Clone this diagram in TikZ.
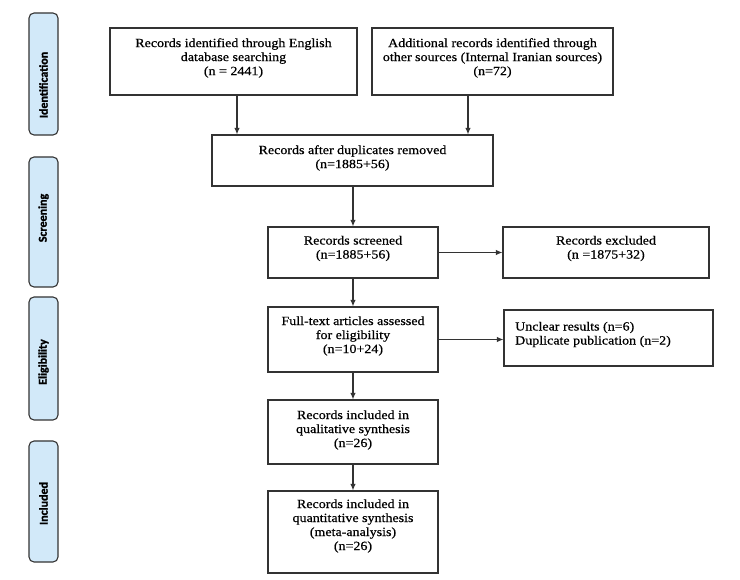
\documentclass[tikz,border=0pt]{standalone}
\usepackage{fontspec}
\setmainfont[FakeStretch=1.12,FakeBold=0.6]{Liberation Serif}
\newfontfamily\tabfont[FakeBold=1.5]{Carlito}
\usetikzlibrary{arrows.meta}
\definecolor{linecol}{HTML}{333333}
\definecolor{tabfill}{HTML}{D2E9F9}
\begin{document}
\begin{tikzpicture}[x=1pt,y=-1pt,
  box/.style={draw=linecol,line width=1.1pt,rectangle,inner sep=0pt},
  txt/.style={align=center,inner sep=0pt,font=\fontsize{12.5}{14}\selectfont,text=black},
  tab/.style={draw=linecol,line width=1.1pt,fill=tabfill,rounded corners=5pt,minimum width=29pt,inner sep=0pt},
  tabtxt/.style={rotate=90,font=\tabfont\bfseries\fontsize{12}{14}\selectfont,text=black,inner sep=0pt},
  arr/.style={draw=linecol,line width=1.1pt,-{Latex[length=6.5pt,width=5.5pt]}}]
\useasboundingbox[fill=white] (0,0) rectangle (740,580);
% side tabs
\node[tab,minimum height=122pt] (tid) at (43.5,74) {};
\node[tabtxt] (tidt) at (43.5,85) {Identification};
\node[tab,minimum height=130pt] (tsc) at (43.5,222) {};
\node[tabtxt] (tsct) at (43.5,218) {Screening};
\node[tab,minimum height=123pt] (tel) at (43.5,358.5) {};
\node[tabtxt] (telt) at (43.5,362) {Eligibility};
\node[tab,minimum height=121pt] (tin) at (43.5,501.5) {};
\node[tabtxt] (tint) at (43.5,503.5) {Included};
% boxes
\node[box,minimum width=247pt,minimum height=67pt] (b1) at (233.5,61.5) {};
\node[txt] (b1t) at (233.5,58) {Records identified through English\\database searching\\(n = 2441)};
\node[box,minimum width=241pt,minimum height=67pt] (b2) at (492.5,61.5) {};
\node[txt] (b2t) at (492.5,58) {Additional records identified through\\other sources (Internal Iranian sources)\\(n=72)};
\node[box,minimum width=281pt,minimum height=51pt] (b3) at (352.5,160.5) {};
\node[txt] (b3t) at (352.5,158) {Records after duplicates removed\\(n=1885+56)};
\node[box,minimum width=170pt,minimum height=51pt] (b4) at (353,252.5) {};
\node[txt] (b4t) at (353,248.5) {Records screened\\(n=1885+56)};
\node[box,minimum width=206pt,minimum height=51pt] (b5) at (606,252.5) {};
\node[txt] (b5t) at (606,248.5) {Records excluded\\(n =1875+32)};
\node[box,minimum width=170pt,minimum height=65pt] (b6) at (353,339.5) {};
\node[txt] (b6t) at (353,336) {Full-text articles assessed\\for eligibility\\(n=10+24)};
\node[box,minimum width=209pt,minimum height=56pt] (b7) at (608.5,338) {};
\node[txt,align=left,anchor=west] (b7t) at (515,334.5) {Unclear results (n=6)\\Duplicate publication (n=2)};
\node[box,minimum width=170pt,minimum height=64pt] (b8) at (353,432) {};
\node[txt] (b8t) at (353,430) {Records included in\\qualitative synthesis\\(n=26)};
\node[box,minimum width=170pt,minimum height=82pt] (b9) at (353,532) {};
\node[txt] (b9t) at (353,526) {Records included in\\quantitative synthesis\\(meta-analysis)\\(n=26)};
% connectors
\coordinate (a1) at (237,95);
\coordinate (a2) at (468,95);
\draw[arr] (a1) -- (a1 |- b3.north);
\draw[arr] (a2) -- (a2 |- b3.north);
\draw[arr] (b3.south -| b4.north) -- (b4.north);
\draw[arr] (b4.east) -- (b5.west);
\draw[arr] (b4.south) -- (b6.north);
\draw[arr] (b6.east) -- (b6.east -| b7.west);
\draw[arr] (b6.south) -- (b8.north);
\draw[arr] (b8.south) -- (b9.north);
\end{tikzpicture}
\end{document}
